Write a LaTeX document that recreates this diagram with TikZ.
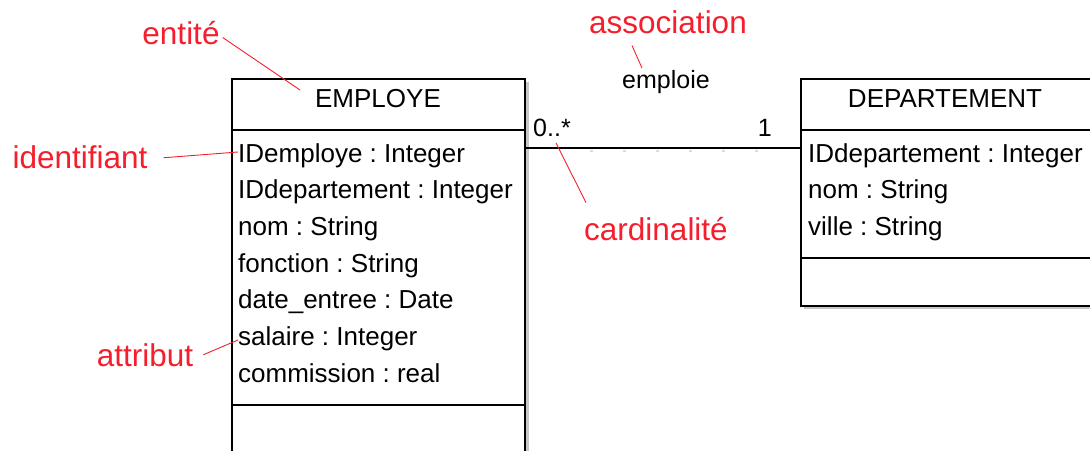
\documentclass[tikz,border=0pt]{standalone}
\usepackage{fontspec}
\setmainfont{Liberation Sans}
\frenchspacing
\definecolor{annot}{RGB}{245,30,45}
\begin{document}
\begin{tikzpicture}[x=1pt,y=-1pt,
  classbox/.style={draw=black,line width=1.6pt,fill=white,inner sep=0pt,anchor=north west},
  boxshadow/.style={fill=black!22},
  sepline/.style={line width=1.6pt},
  attr/.style={font=\fontsize{26}{26}\selectfont\frenchspacing,anchor=base west,inner sep=0pt},
  classname/.style={font=\fontsize{26}{26}\selectfont,anchor=base,inner sep=0pt},
  mult/.style={font=\fontsize{25}{25}\selectfont,anchor=base west,inner sep=0pt},
  note/.style={font=\fontsize{31.5}{31.5}\selectfont,text=annot,anchor=base,inner sep=0pt},
  leader/.style={draw=annot,line width=0.9pt}]
\useasboundingbox (0,0) rectangle (1090,450);
\clip (0,0) rectangle (1090,450);

% drop shadows behind the two classes
\fill[boxshadow] (235,82) rectangle (529,470);
\fill[boxshadow] (804,82) rectangle (1100,309);

% class EMPLOYE
\node[classbox,minimum width=293pt,minimum height=392pt] (emp) at (231,78) {};
\draw[sepline] (emp.north west |- 0,130) -- (emp.north east |- 0,130);
\draw[sepline] (emp.north west |- 0,405) -- (emp.north east |- 0,405);
\node[classname] (empname) at (378,107) {EMPLOYE};
\node[attr] (e1) at (238,162) {IDemploye : Integer};
\node[attr] (e2) at (238,198.7) {IDdepartement : Integer};
\node[attr] (e3) at (238,235.3) {nom : String};
\node[attr] (e4) at (238,272) {fonction : String};
\node[attr] (e5) at (238,308.7) {date\_entree : Date};
\node[attr] (e6) at (238,345.3) {salaire : Integer};
\node[attr] (e7) at (238,382) {commission : real};

% class DEPARTEMENT
\node[classbox,minimum width=300pt,minimum height=227pt] (dep) at (800,78) {};
\draw[sepline] (dep.north west |- 0,130) -- (dep.north east |- 0,130);
\draw[sepline] (dep.north west |- 0,258) -- (dep.north east |- 0,258);
\node[classname] (depname) at (945,107) {DEPARTEMENT};
\node[attr] (d1) at (808,162) {IDdepartement : Integer};
\node[attr] (d2) at (808,198.7) {nom : String};
\node[attr] (d3) at (808,235.3) {ville : String};

% association emploie
\draw[black!14,line width=1.2pt,dash pattern=on 3pt off 30pt] (590,151) -- (760,151);
\draw[line width=1.3pt] ([yshift=-70pt]emp.north east) -- ([yshift=-70pt]dep.north west);
\node[classname,font=\fontsize{25}{25}\selectfont] (asso) at (666,88) {emploie};
\node[mult] (m1) at (533,136) {0..*};
\node[mult,anchor=base east] (m2) at (772,136) {1};

% annotations
\node[note] (nent) at (181,44) {entité};
\node[note] (nass) at (668,33) {association};
\node[note] (nid) at (80,168) {identifiant};
\node[note] (ncard) at (656,240) {cardinalité};
\node[note] (nattr) at (145,366) {attribut};

\coordinate (tent) at (300,90);
\coordinate (tass) at (642,68);
\coordinate (tid) at (238,152);
\coordinate (tcard) at (556,143);
\coordinate (tattr) at (238,340);

\draw[leader] ([shift={(3,5)}]nent.east) -- (tent);
\draw[leader] ([shift={(-36,12)}]nass.south) -- (tass);
\draw[leader] ([shift={(16,1)}]nid.east) -- (tid);
\draw[leader] ([shift={(2,-14)}]ncard.north west) -- (tcard);
\draw[leader] ([shift={(10,0)}]nattr.east) -- (tattr);
\end{tikzpicture}
\end{document}
